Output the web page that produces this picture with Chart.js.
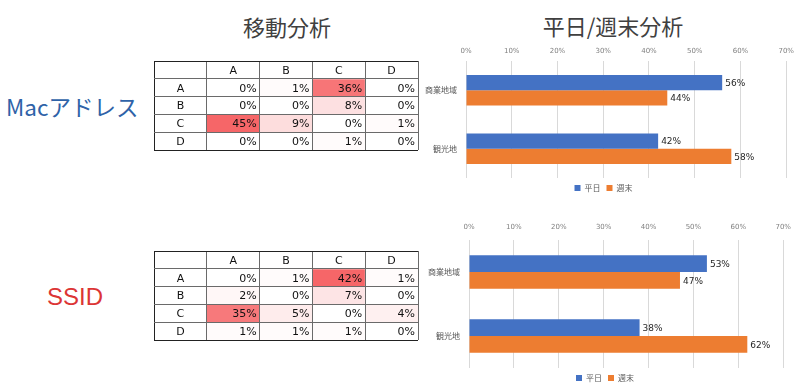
<!DOCTYPE html>
<html>
<head>
<meta charset="utf-8">
<script src="https://cdn.jsdelivr.net/npm/chart.js@4/dist/chart.umd.min.js"></script>
<style>
  body { margin: 0; background: #fff; }
  #page { position: relative; width: 800px; height: 389px; overflow: hidden; background: #fff; }
  .title { position: absolute; font-family: "Noto Sans CJK JP", sans-serif; font-size: 22px; color: #404040; line-height: 1; white-space: nowrap; transform: translate(-50%, -50%); }
  .side { position: absolute; line-height: 1; white-space: nowrap; transform: translateY(-50%); }
  canvas { position: absolute; }
</style>
</head>
<body>
<div id="page">
  <div class="title" style="left:287px; top:26px;">移動分析</div>
  <div class="title" style="left:613px; top:25px;">平日/週末分析</div>
  <div class="side" style="left:6px; top:106px; font-family:'Noto Sans CJK JP', sans-serif; font-size:22.5px; color:#2f63a8;">Macアドレス</div>
  <div class="side" style="left:47px; top:297px; font-family:'Liberation Sans', Arial, sans-serif; font-size:24px; color:#dc3535;">SSID</div>

  <canvas id="macTable" width="266" height="91" style="left:153px; top:60px;"></canvas>
  <canvas id="ssidTable" width="266" height="91" style="left:153px; top:250px;"></canvas>
  <canvas id="macBars" width="380" height="166" style="left:420px; top:40px;"></canvas>
  <canvas id="ssidBars" width="380" height="174" style="left:420px; top:222px;"></canvas>
</div>

<script>
// --- Data ---
const tableCols = ['A', 'B', 'C', 'D'];
const tableRows = ['A', 'B', 'C', 'D'];
const macMatrix  = [[0, 1, 36, 0], [0, 0, 8, 0], [45, 9, 0, 1], [0, 0, 1, 0]];
const ssidMatrix = [[0, 1, 42, 1], [2, 0, 7, 0], [35, 5, 0, 4], [1, 1, 1, 0]];

const areas = ['商業地域', '観光地'];
const seriesNames = ['平日', '週末'];
const macWeekday  = [56, 42];
const macWeekend  = [44, 58];
const ssidWeekday = [53, 38];
const ssidWeekend = [47, 62];
const pctTicks = [0, 10, 20, 30, 40, 50, 60, 70];

// --- Heat colour: white -> red, saturating at 40% ---
function heat(v) {
    const t = Math.min(1, v / 40);
    const mix = (a, b) => Math.round(a + (b - a) * t);
    return `rgb(${mix(255, 246)},${mix(255, 102)},${mix(255, 104)})`;
}

// text inside every cell of the matrix
const cellText = {
    id: 'cellText',
    afterDatasetsDraw(chart) {
        const ctx = chart.ctx;
        ctx.save();
        ctx.font = '11px "DejaVu Sans", Verdana, sans-serif';
        ctx.fillStyle = '#111';
        ctx.textBaseline = 'middle';
        chart.data.datasets.forEach((ds, di) => {
            chart.getDatasetMeta(di).data.forEach((el, ci) => {
                const p = el.getProps(['x', 'y', 'base', 'width'], true);
                const txt = ds.texts[ci];
                if (!txt) return;
                const cy = (p.y + p.base) / 2 + 1;
                if (ds.isHeader || ci === 0) {
                    ctx.textAlign = 'center';
                    ctx.fillText(txt, p.x, cy);
                } else {
                    ctx.textAlign = 'right';
                    ctx.fillText(txt, p.x + p.width / 2 - 3, cy);
                }
            });
        });
        ctx.restore();
    }
};

function makeTable(id, matrix) {
    const datasets = [{
        isHeader: true,
        data: [1, 1, 1, 1, 1],
        texts: ['', ...tableCols],
        backgroundColor: '#fff'
    }];
    matrix.forEach((row, r) => {
        datasets.push({
            data: [1, 1, 1, 1, 1],
            texts: [tableRows[r], ...row.map(v => v + '%')],
            backgroundColor: ['#fff', ...row.map(heat)]
        });
    });
    datasets.forEach(d => { d.barPercentage = 1; d.categoryPercentage = 1; d.borderWidth = 0; });

    const lineColor = c => (c.index === 0 || c.index === 5) ? '#222' : '#6a6a6a';
    return new Chart(document.getElementById(id), {
        type: 'bar',
        data: { labels: ['', ...tableCols], datasets },
        options: {
            responsive: false,
            animation: false,
            layout: { padding: 1 },
            plugins: { legend: { display: false }, tooltip: { enabled: false } },
            scales: {
                x: {
                    stacked: true,
                    grid: { offset: true, color: lineColor, drawTicks: false, z: 1 },
                    border: { display: false },
                    ticks: { display: false }
                },
                y: {
                    stacked: true, reverse: true, min: 0, max: 5,
                    grid: { color: lineColor, drawTicks: false, z: 1 },
                    border: { display: false },
                    ticks: { display: false, stepSize: 1 }
                }
            }
        },
        plugins: [cellText]
    });
}

// value labels at bar ends
const barValues = {
    id: 'barValues',
    afterDatasetsDraw(chart) {
        const ctx = chart.ctx;
        ctx.save();
        ctx.font = '9px "DejaVu Sans", sans-serif';
        ctx.fillStyle = '#262626';
        ctx.textAlign = 'left';
        ctx.textBaseline = 'middle';
        chart.data.datasets.forEach((ds, di) => {
            chart.getDatasetMeta(di).data.forEach((el, i) => {
                ctx.fillText(ds.data[i] + '%', el.x + 3, el.y + 1);
            });
        });
        ctx.restore();
    }
};

function makeBars(id, weekday, weekend, cfg) {
    return new Chart(document.getElementById(id), {
        type: 'bar',
        data: {
            labels: areas,
            datasets: [
                { label: seriesNames[0], data: weekday, backgroundColor: '#4472C4' },
                { label: seriesNames[1], data: weekend, backgroundColor: '#ED7D31' }
            ]
        },
        options: {
            indexAxis: 'y',
            responsive: false,
            animation: false,
            datasets: { bar: { barPercentage: 1, categoryPercentage: cfg.catPct } },
            layout: { padding: { left: 0, right: cfg.padRight, top: 0, bottom: cfg.padBottom } },
            plugins: {
                tooltip: { enabled: false },
                legend: {
                    position: 'bottom',
                    labels: {
                        boxWidth: 6, boxHeight: 6, padding: 6,
                        color: '#595959',
                        font: { size: 8, family: '"Noto Sans CJK JP", sans-serif' }
                    }
                }
            },
            scales: {
                x: {
                    position: 'top',
                    min: pctTicks[0], max: pctTicks[pctTicks.length - 1],
                    afterBuildTicks: s => { s.ticks = pctTicks.map(v => ({ value: v })); },
                    afterFit: s => { s.height = cfg.axisTop; },
                    grid: { color: '#d9d9d9', drawTicks: false },
                    border: { display: false },
                    ticks: {
                        padding: cfg.tickPad,
                        color: '#808080',
                        font: { size: 7, family: '"DejaVu Sans", sans-serif' },
                        callback: v => v + '%'
                    }
                },
                y: {
                    afterFit: s => { s.width = cfg.axisLeft; },
                    grid: { display: false },
                    border: { display: false },
                    ticks: {
                        padding: 1,
                        color: '#595959',
                        font: { size: 8, family: '"Noto Sans CJK JP", sans-serif' }
                    }
                }
            }
        },
        plugins: [barValues]
    });
}

makeTable('macTable', macMatrix);
makeTable('ssidTable', ssidMatrix);
makeBars('macBars', macWeekday, macWeekend, { catPct: 0.52, padRight: 13, padBottom: 4, axisTop: 21, axisLeft: 46, tickPad: 6 });
makeBars('ssidBars', ssidWeekday, ssidWeekend, { catPct: 0.52, padRight: 10, padBottom: 4, axisTop: 18, axisLeft: 49, tickPad: 9 });
</script>
</body>
</html>
